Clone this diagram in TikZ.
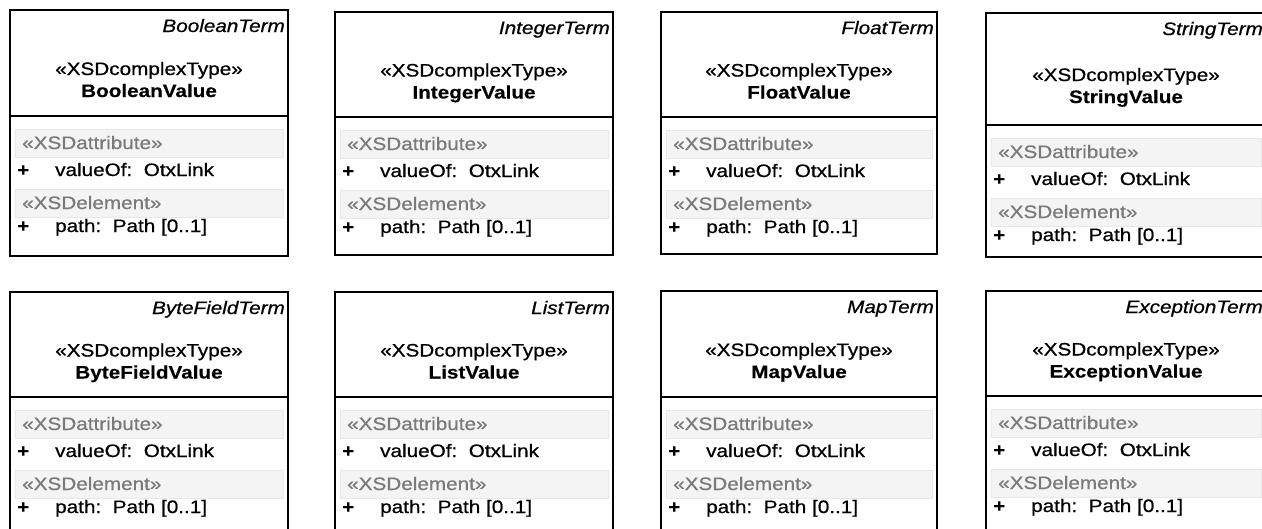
\documentclass[tikz,border=0pt]{standalone}
\usepackage{fontspec}
\setmainfont{Liberation Sans}[FakeStretch=1.15,
  UprightFeatures={FakeBold=0.7},
  ItalicFeatures={FakeBold=0.7},
  BoldFeatures={FakeBold=0.3}]
\definecolor{bandfill}{HTML}{F4F4F4}
\definecolor{bandline}{HTML}{E8E8E8}
\definecolor{stereo}{HTML}{7A7A7A}
\tikzset{
  boxline/.style={draw=black, line width=1.4pt},
  band/.style={fill=bandfill, draw=bandline, line width=0.6pt},
  txt/.style={inner sep=0pt, anchor=base, font=\fontsize{18}{20}\selectfont},
  termtxt/.style={inner sep=0pt, anchor=base east, font=\fontsize{18}{20}\selectfont\itshape},
  lefttxt/.style={inner sep=0pt, anchor=base west, font=\fontsize{18}{20}\selectfont},
  graytxt/.style={lefttxt, text=stereo},
}
% #1 id, #2 left, #3 right, #4 top, #5 divider, #6 bottom, #7 term, #8 value
\newcommand\classbox[8]{%
  \draw[boxline] (#2,#6) -- (#2,#4) -- (#3,#4) -- (#3,#6) -- cycle;
  \draw[boxline] (#2,#5) -- (#3,#5);
  \pgfmathsetmacro\cx{(#2+#3)/2}
  \pgfmathsetmacro\my{(#4+#5)/2}
  \node[termtxt] (#1term) at (#3-3,#4+22) {#7};
  \node[txt] (#1st) at (\cx,\my+12) {«XSDcomplexType»};
  \node[txt] (#1name) at (\cx,\my+34) {\bfseries #8};
  \draw[band] (#2+5,#5+13) rectangle (#3-5,#5+41);
  \node[graytxt] (#1attr) at (#2+12,#5+33) {«XSDattribute»};
  \node[lefttxt] (#1p1) at (#2+7,#5+60) {\bfseries +};
  \node[lefttxt] (#1a1) at (#2+45,#5+60) {valueOf:\ \ OtxLink};
  \draw[band] (#2+5,#5+73) rectangle (#3-5,#5+101);
  \node[graytxt] (#1elem) at (#2+12,#5+93) {«XSDelement»};
  \node[lefttxt] (#1p2) at (#2+7,#5+116) {\bfseries +};
  \node[lefttxt] (#1a2) at (#2+45,#5+116) {path:\ \ Path [0..1]};
}
\begin{document}
\begin{tikzpicture}[x=1pt,y=-1pt]
\useasboundingbox (0,0) rectangle (1262,528);
\clip (0,0) rectangle (1262,528);
\fill[white] (0,0) rectangle (1262,528);
\classbox{b}{10}{288}{10}{116}{256}{BooleanTerm}{BooleanValue}
\classbox{i}{335}{613}{12}{117}{255}{IntegerTerm}{IntegerValue}
\classbox{f}{661}{937}{12}{117}{254}{FloatTerm}{FloatValue}
\classbox{s}{986}{1266}{13}{125}{257}{StringTerm}{StringValue}
\classbox{y}{10}{288}{292}{397}{545}{ByteFieldTerm}{ByteFieldValue}
\classbox{l}{335}{613}{292}{397}{545}{ListTerm}{ListValue}
\classbox{m}{661}{937}{291}{397}{545}{MapTerm}{MapValue}
\classbox{e}{986}{1266}{291}{396}{545}{ExceptionTerm}{ExceptionValue}
\end{tikzpicture}
\end{document}
